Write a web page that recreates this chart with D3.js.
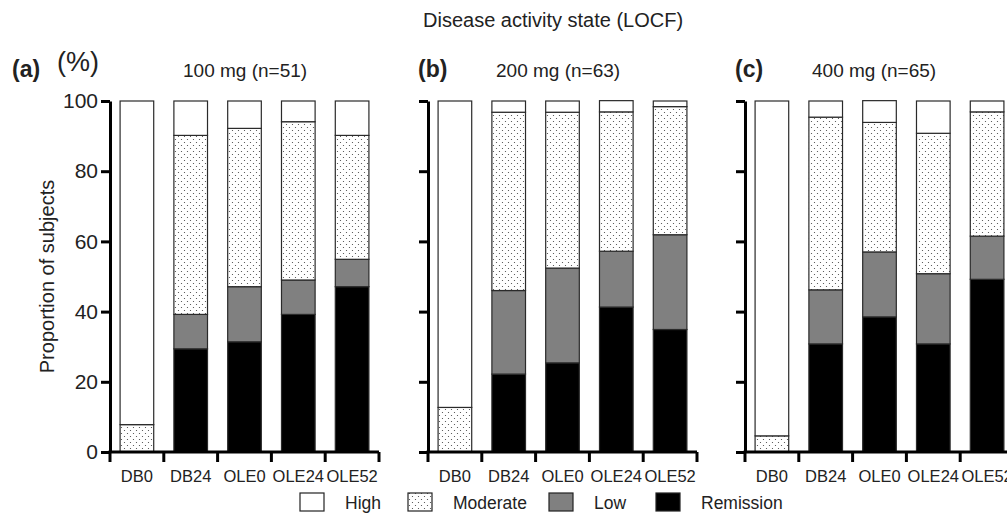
<!DOCTYPE html>
<html>
<head>
<meta charset="utf-8">
<script src="https://cdn.jsdelivr.net/npm/d3@7"></script>
<style>
  body { margin: 0; background: #fff; }
  text { font-family: "Liberation Sans", Arial, sans-serif; fill: #222; }
</style>
</head>
<body>
<div id="chart"></div>
<script>
// categories and stacked states
const categories = ["DB0", "DB24", "OLE0", "OLE24", "OLE52"]
const states = ["Remission", "Low", "Moderate", "High"]
const yTicks = [0, 20, 40, 60, 80, 100]
const panelLabels = ["(a)", "(b)", "(c)"]
const doseLabels = ["100 mg (n=51)", "200 mg (n=63)", "400 mg (n=65)"]

// percentages
const remission100 = [0, 29.4, 31.4, 39.2, 47.1]
const low100 = [0, 9.8, 15.7, 9.8, 7.8]
const moderate100 = [7.8, 51.0, 45.1, 45.1, 35.3]
const high100 = [92.2, 9.8, 7.8, 5.9, 9.8]

const remission200 = [0, 22.2, 25.4, 41.3, 34.9]
const low200 = [0, 23.8, 27.0, 15.9, 27.0]
const moderate200 = [12.7, 50.8, 44.4, 39.7, 36.5]
const high200 = [87.3, 3.2, 3.2, 3.2, 1.6]

const remission400 = [0, 30.8, 38.5, 30.8, 49.2]
const low400 = [0, 15.4, 18.5, 20.0, 12.3]
const moderate400 = [4.6, 49.2, 36.9, 40.0, 35.4]
const high400 = [95.4, 4.6, 6.2, 9.2, 3.1]

const panels = [
    [remission100, low100, moderate100, high100],
    [remission200, low200, moderate200, high200],
    [remission400, low400, moderate400, high400]
]

const W = 1007, H = 515
const PANEL_X = [110, 428, 745]
const PANEL_W = 269
const TOP = 101, BOTTOM = 452

const fills = { Remission: "#000", Low: "#808080", Moderate: "url(#dots)", High: "#fff" }

const svg = d3.select("#chart").append("svg")
    .attr("width", W)
    .attr("height", H)

// dotted pattern for "Moderate"
const pat = svg.append("defs").append("pattern")
    .attr("id", "dots")
    .attr("patternUnits", "userSpaceOnUse")
    .attr("width", 6)
    .attr("height", 6)
pat.append("rect").attr("width", 6).attr("height", 6).attr("fill", "#fff")
pat.append("circle").attr("cx", 1.5).attr("cy", 1.5).attr("r", 0.6).attr("fill", "#444")
pat.append("circle").attr("cx", 4.5).attr("cy", 4.5).attr("r", 0.6).attr("fill", "#444")

const y = d3.scaleLinear().domain([0, 100]).range([BOTTOM, TOP])

// title
svg.append("text")
    .attr("x", 423)
    .attr("y", 27)
    .style("font-size", "20px")
    .text("Disease activity state (LOCF)")

// y label
svg.append("text")
    .attr("transform", "translate(54," + ((TOP + BOTTOM) / 2) + ") rotate(-90)")
    .attr("text-anchor", "middle")
    .style("font-size", "20px")
    .text("Proportion of subjects")

svg.append("text")
    .attr("x", 57)
    .attr("y", 71)
    .style("font-size", "27px")
    .text("(%)")

const labelX = [12, 418, 735]
const doseX = [183, 496, 812]

panels.forEach((series, p) => {
    const x0 = PANEL_X[p]

    const x = d3.scaleBand()
        .domain(categories)
        .range([x0, x0 + PANEL_W])
        .paddingInner(0.375)
        .paddingOuter(0.1875)

    const rows = categories.map((c, i) => {
        const row = { cat: c }
        states.forEach((s, k) => { row[s] = series[k][i] })
        return row
    })
    const stacked = d3.stack().keys(states)(rows)

    const g = svg.append("g")

    g.selectAll(".layer")
        .data(stacked)
        .enter().append("g")
        .attr("fill", d => fills[d.key])
        .selectAll("rect")
        .data(d => d.filter(v => v[1] - v[0] > 0))
        .enter().append("rect")
        .attr("x", d => x(d.data.cat))
        .attr("y", d => y(d[1]))
        .attr("width", x.bandwidth())
        .attr("height", d => y(d[0]) - y(d[1]))
        .attr("stroke", "#2a2a2a")
        .attr("stroke-width", 1.2)

    // y axis
    const yAxis = g.append("g")
        .attr("transform", "translate(" + x0 + ",0)")
        .call(d3.axisLeft(y).tickValues(yTicks).tickSize(9).tickSizeOuter(0).tickPadding(3))
    yAxis.select(".domain").attr("stroke", "#000").attr("stroke-width", 3)
    yAxis.selectAll(".tick line").attr("stroke", "#000").attr("stroke-width", 3)
    yAxis.selectAll("text")
        .style("font-size", "21px")
        .style("font-family", "'Liberation Sans', Arial, sans-serif")
        .attr("fill", "#222")
    if (p > 0) yAxis.selectAll("text").remove()

    // x axis: labels at band centres, ticks at band edges
    const xAxis = g.append("g")
        .attr("transform", "translate(0," + BOTTOM + ")")
        .call(d3.axisBottom(x).tickSize(0).tickPadding(18))
    xAxis.select(".domain").remove()
    xAxis.selectAll("text")
        .style("font-size", "16.5px")
        .style("font-family", "'Liberation Sans', Arial, sans-serif")
        .attr("fill", "#222")

    g.append("line")
        .attr("x1", x0 - 1.5)
        .attr("x2", x0 + PANEL_W)
        .attr("y1", BOTTOM)
        .attr("y2", BOTTOM)
        .attr("stroke", "#000")
        .attr("stroke-width", 3)

    g.selectAll(".edge")
        .data(d3.range(categories.length + 1))
        .enter().append("line")
        .attr("x1", i => x0 + i * x.step())
        .attr("x2", i => x0 + i * x.step())
        .attr("y1", BOTTOM)
        .attr("y2", BOTTOM + 10)
        .attr("stroke", "#000")
        .attr("stroke-width", 3)

    svg.append("text")
        .attr("x", labelX[p])
        .attr("y", 77)
        .style("font-size", "23px")
        .style("font-weight", "bold")
        .text(panelLabels[p])

    svg.append("text")
        .attr("x", doseX[p])
        .attr("y", 77)
        .style("font-size", "19px")
        .text(doseLabels[p])
})

// legend
const legendOrder = ["High", "Moderate", "Low", "Remission"]
const legendBoxX = [300, 408, 549, 656]

const legend = svg.append("g")
legend.selectAll("rect")
    .data(legendOrder)
    .enter().append("rect")
    .attr("x", (d, i) => legendBoxX[i])
    .attr("y", 493)
    .attr("width", 24)
    .attr("height", 18)
    .attr("fill", d => fills[d])
    .attr("stroke", "#222")
    .attr("stroke-width", 1.2)

legend.selectAll("text")
    .data(legendOrder)
    .enter().append("text")
    .attr("x", (d, i) => legendBoxX[i] + 45)
    .attr("y", 509)
    .style("font-size", "17.5px")
    .text(d => d)
</script>
</body>
</html>
